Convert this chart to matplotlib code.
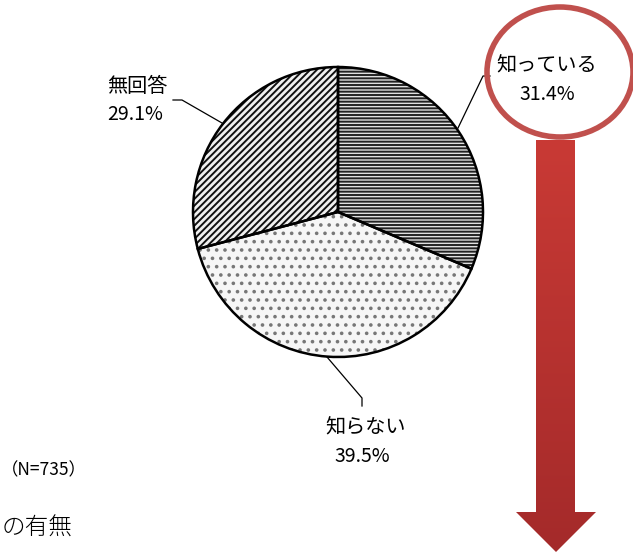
import matplotlib
matplotlib.use("Agg")
import matplotlib.pyplot as plt
import numpy as np
from matplotlib.patches import Ellipse, Polygon
from matplotlib.colors import LinearSegmentedColormap

plt.rcParams['font.family'] = ['Noto Sans CJK JP', 'DejaVu Sans']
plt.rcParams['hatch.linewidth'] = 1.4

# data
categories = ["知っている", "知らない", "無回答"]
values = [31.4, 39.5, 29.1]
n_label = "（N=735）"
title_fragment = "の有無"

W, H = 633, 556
fig = plt.figure(figsize=(W / 100, H / 100), dpi=100)
ax = fig.add_axes([0, 0, 1, 1])

def Y(y):
    return H - y

cx, cy, r = 338, Y(212), 145
# hatched fills (hatch colour follows edge colour)
wedges, _ = ax.pie(values, startangle=90, counterclock=False,
                   center=(cx, cy), radius=r, frame=True,
                   wedgeprops=dict(linewidth=0))
styles = [('#e0e0e0', '-----', '#222222'),
          ('#f6f6f6', '..', '#777777'),
          ('#f0f0f0', '/////', '#111111')]
for w, (fc, h, hc) in zip(wedges, styles):
    w.set_facecolor(fc)
    w.set_edgecolor(hc)
    w.set_hatch(h)
# outlines on top
outl, _ = ax.pie(values, startangle=90, counterclock=False,
                 center=(cx, cy), radius=r, frame=True,
                 wedgeprops=dict(fill=False, edgecolor='black', linewidth=1.8))

ax.set_xlim(0, W)
ax.set_ylim(0, H)
ax.set_aspect('equal')
ax.axis('off')

# leader lines
lk = dict(color='black', lw=0.9)
ax.plot([458, 483, 490], [Y(128), Y(76), Y(76)], **lk)
ax.plot([173, 182, 222], [Y(100), Y(100), Y(123)], **lk)
ax.plot([327, 362, 362], [Y(357), Y(398), Y(406)], **lk)

# labels
pos = {"知っている": (547, 66, 547, 95),
       "知らない": (366, 428, 362, 456),
       "無回答": (137, 87, 135, 115)}
for cat, v in zip(categories, values):
    x1, y1, x2, y2 = pos[cat]
    ax.text(x1, Y(y1), cat, ha='center', va='center', fontsize=14.5)
    ax.text(x2, Y(y2), f"{v:.1f}%", ha='center', va='center', fontsize=14)

ax.text(1, Y(470), n_label, ha='left', va='center', fontsize=12.5)
ax.text(73, Y(528), title_fragment, ha='right', va='center', fontsize=17,
        fontweight='light')

# red highlight ellipse
ax.add_patch(Ellipse((560, Y(72)), 146, 130, fill=False,
                     edgecolor='#c0504d', linewidth=4, zorder=5))

# red arrow with vertical gradient
arrow_pts = [(536, Y(140)), (575, Y(140)), (575, Y(512)), (596, Y(512)),
             (556, Y(552)), (516, Y(512)), (536, Y(512))]
poly = Polygon(arrow_pts, closed=True, facecolor='none', edgecolor='none')
ax.add_patch(poly)
grad = np.linspace(0, 1, 256).reshape(-1, 1)
cmap = LinearSegmentedColormap.from_list('rg', ['#a42a2a', '#c93a35'])
im = ax.imshow(grad, cmap=cmap, extent=[510, 600, Y(555), Y(138)],
               origin='lower', aspect='auto', zorder=4)
im.set_clip_path(poly)
ax.set_xlim(0, W)
ax.set_ylim(0, H)

fig.savefig("out.png", dpi=100)
